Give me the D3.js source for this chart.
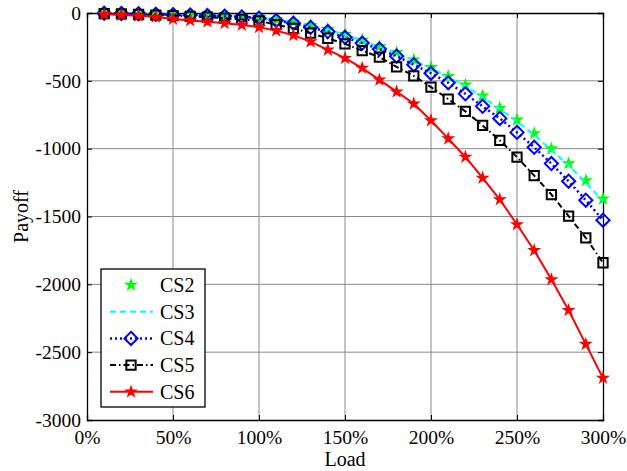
<!DOCTYPE html>
<html>
<head>
<meta charset="utf-8">
<script src="https://cdn.jsdelivr.net/npm/d3@7"></script>
<style>
  body { margin: 0; background: #fff; }
</style>
</head>
<body>
<div id="wrapper"></div>
<script>
// load levels in %
const loads = [10,20,30,40,50,60,70,80,90,100,110,120,130,140,150,160,170,180,190,200,210,220,230,240,250,260,270,280,290,300]

const cs2 = [-1,-3,-5,-7,-10,-13,-16,-20,-25,-33,-48,-66,-92,-120,-157,-199,-246,-290,-345,-400,-466,-530,-610,-700,-788,-888,-1000,-1110,-1235,-1370]
const cs3 = [-1,-3,-5,-7,-10,-13,-17,-21,-26,-34,-50,-68,-95,-123,-160,-203,-250,-296,-351,-406,-473,-538,-619,-709,-798,-899,-1011,-1123,-1250,-1386]
const cs4 = [-2,-4,-6,-9,-12,-15,-19,-23,-29,-38,-55,-76,-106,-137,-179,-222,-266,-318,-381,-444,-514,-596,-688,-777,-880,-990,-1110,-1240,-1380,-1527]
const cs5 = [-4,-7,-11,-15,-20,-25,-31,-38,-47,-58,-86,-113,-149,-186,-228,-277,-326,-397,-463,-546,-635,-725,-829,-939,-1062,-1199,-1338,-1497,-1657,-1841]
const cs6 = [-10,-14,-20,-30,-44,-55,-65,-76,-89,-105,-130,-164,-211,-272,-333,-406,-493,-580,-669,-792,-926,-1061,-1216,-1375,-1559,-1750,-1965,-2191,-2441,-2691]

const xTicks = [0,50,100,150,200,250,300]
const yTicks = [0,-500,-1000,-1500,-2000,-2500,-3000]

const seriesNames = ["CS2","CS3","CS4","CS5","CS6"]
const seriesValues = [cs2, cs3, cs4, cs5, cs6]

const FONT = "'Liberation Serif', 'Times New Roman', serif"

// styles per series
const styles = {
  CS2: {color: "#00ff00", line: false, dash: null, marker: "star", width: 0},
  CS3: {color: "#00ffff", line: true, dash: "6,4", marker: null, width: 2},
  CS4: {color: "#0000ff", line: true, dash: "2,3", marker: "diamond", width: 2.5},
  CS5: {color: "#000000", line: true, dash: "6,3,1.5,3", marker: "square", width: 2},
  CS6: {color: "#ff0000", line: true, dash: null, marker: "redstar", width: 2},
}

let dimensions = {
  width: 627,
  height: 471,
  margin: {top: 13, right: 24, bottom: 51, left: 87},
}
dimensions.boundedWidth = dimensions.width - dimensions.margin.left - dimensions.margin.right
dimensions.boundedHeight = dimensions.height - dimensions.margin.top - dimensions.margin.bottom

const wrapper = d3.select("#wrapper").append("svg")
    .attr("width", dimensions.width)
    .attr("height", dimensions.height)

const bounds = wrapper.append("g")
    .attr("transform", `translate(${dimensions.margin.left},${dimensions.margin.top})`)

const xScale = d3.scaleLinear()
    .domain([0, 300])
    .range([0, dimensions.boundedWidth])

const yScale = d3.scaleLinear()
    .domain([-3000, 0])
    .range([dimensions.boundedHeight, 0])

// grid
bounds.append("g").selectAll("line")
  .data(xTicks.slice(1, -1)).enter().append("line")
    .attr("x1", d => xScale(d)).attr("x2", d => xScale(d))
    .attr("y1", 0).attr("y2", dimensions.boundedHeight)
    .attr("stroke", "#8a8a8a").attr("stroke-width", 1)
bounds.append("g").selectAll("line")
  .data(yTicks.slice(1, -1)).enter().append("line")
    .attr("y1", d => yScale(d)).attr("y2", d => yScale(d))
    .attr("x1", 0).attr("x2", dimensions.boundedWidth)
    .attr("stroke", "#8a8a8a").attr("stroke-width", 1)

// axes
const xAxis = bounds.append("g")
    .attr("transform", `translate(0,${dimensions.boundedHeight})`)
    .call(d3.axisBottom(xScale).tickValues(xTicks).tickSize(-5).tickPadding(9).tickFormat(d => d + "%"))
const yAxis = bounds.append("g")
    .call(d3.axisLeft(yScale).tickValues(yTicks).tickSize(-5).tickPadding(6).tickFormat(d => d))
const xTop = bounds.append("g")
    .call(d3.axisTop(xScale).tickValues(xTicks).tickSize(-5).tickFormat(""))
const yRight = bounds.append("g")
    .attr("transform", `translate(${dimensions.boundedWidth},0)`)
    .call(d3.axisRight(yScale).tickValues(yTicks).tickSize(-5).tickFormat(""))

;[xAxis, yAxis, xTop, yRight].forEach(a => {
  a.attr("font-family", FONT).attr("font-size", 19)
  a.select(".domain").attr("stroke", "#000").attr("stroke-width", 1.3)
  a.selectAll(".tick line").attr("stroke", "#000")
  a.selectAll("text").style("font-family", FONT).style("font-size", "19.5px").attr("fill", "#000")
})
xAxis.selectAll("text").attr("dy", "0.75em")

// lines
const lineGen = (vals) => d3.line()
    .x((d, i) => xScale(loads[i]))
    .y(d => yScale(d))(vals)

const symbolPath = (type) => {
  if (type === "star" || type === "redstar") return d3.symbol(d3.symbolStar, 28)()
  if (type === "diamond") return d3.symbol(d3.symbolDiamond2, 110)()
  if (type === "square") return d3.symbol(d3.symbolSquare2, 110)()
  return null
}

const drawMarker = (sel, type, color) => {
  const filled = type === "star" || type === "redstar"
  sel.append("path")
      .attr("d", symbolPath(type))
      .attr("fill", filled ? color : "none")
      .attr("stroke", color)
      .attr("stroke-width", filled ? 1.5 : 2)
}

seriesNames.forEach((name, k) => {
  const st = styles[name]
  const vals = seriesValues[k]
  const g = bounds.append("g")
  if (st.line) {
    g.append("path")
        .attr("d", lineGen(vals))
        .attr("fill", "none")
        .attr("stroke", st.color)
        .attr("stroke-width", st.width)
        .attr("stroke-dasharray", st.dash)
  }
  if (st.marker) {
    g.selectAll(".m")
      .data(vals).enter().append("g")
        .attr("transform", (d, i) => `translate(${xScale(loads[i])},${yScale(d)})`)
        .each(function() { drawMarker(d3.select(this), st.marker, st.color) })
  }
})

// legend
const legend = bounds.append("g")
    .attr("transform", `translate(${101 - dimensions.margin.left},${269 - dimensions.margin.top})`)
legend.append("rect")
    .attr("width", 104).attr("height", 138)
    .attr("fill", "#fff").attr("stroke", "#000").attr("stroke-width", 1.3)

seriesNames.forEach((name, k) => {
  const st = styles[name]
  const row = legend.append("g").attr("transform", `translate(0,${16 + k * 26.7})`)
  if (st.line) {
    row.append("line")
        .attr("x1", 9).attr("x2", 52)
        .attr("stroke", st.color).attr("stroke-width", st.width)
        .attr("stroke-dasharray", st.dash)
  }
  if (st.marker) {
    const m = row.append("g").attr("transform", "translate(30,0)")
    drawMarker(m, st.marker, st.color)
  }
  row.append("text")
      .attr("x", 59).attr("y", 0).attr("dy", "0.35em")
      .style("font-family", FONT)
      .style("font-size", "20px")
      .text(name)
})

// axis titles
wrapper.append("text")
    .attr("x", dimensions.margin.left + dimensions.boundedWidth / 2)
    .attr("y", 466)
    .attr("text-anchor", "middle")
    .style("font-family", FONT)
    .style("font-size", "20px")
    .text("Load")

wrapper.append("text")
    .attr("transform", `translate(21,${dimensions.margin.top + dimensions.boundedHeight / 2}) rotate(-90)`)
    .attr("text-anchor", "middle")
    .attr("dy", "0.35em")
    .style("font-family", FONT)
    .style("font-size", "20px")
    .text("Payoff")
</script>
</body>
</html>
